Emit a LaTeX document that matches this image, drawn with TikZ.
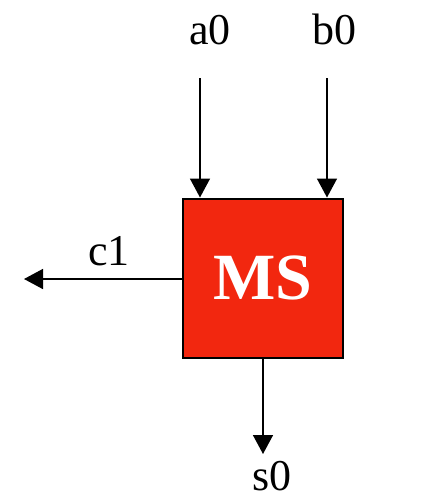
\documentclass[tikz,border=0pt]{standalone}
\usepackage{fontspec}
\setmainfont{Liberation Serif}
\usetikzlibrary{arrows.meta}
\definecolor{msred}{HTML}{F2270F}
\tikzset{
  wire/.style={line width=1.5pt, -{Triangle[width=20pt,length=19pt]}},
  lbl/.style={font=\fontsize{44}{44}\selectfont, inner sep=0pt, anchor=base},
  block/.style={draw=black, line width=2pt, fill=msred, minimum width=160pt, minimum height=159pt, inner sep=0pt, text=white, font=\fontsize{66}{66}\selectfont\bfseries}
}
\begin{document}
\begin{tikzpicture}[x=1pt,y=-1pt]
\useasboundingbox (0,0) rectangle (425,499);
\node[block] (ms) at (263,278) {MS};
\coordinate (ain) at (200,78);
\coordinate (bin) at (327,78);
\coordinate (cout) at (24,279);
\coordinate (sout) at (263,454);
\draw[wire] (ain) -- (ain |- ms.north);
\draw[wire] (bin) -- (bin |- ms.north);
\draw[wire] (ms.west |- cout) -- (cout);
\draw[wire] (ms.south) -- (sout);
\node[lbl] (a0) at (210,44) {a0};
\node[lbl] (b0) at (334,44) {b0};
\node[lbl] (c1) at (109,265) {c1};
\node[lbl] (s0) at (272,490) {s0};
\end{tikzpicture}
\end{document}
